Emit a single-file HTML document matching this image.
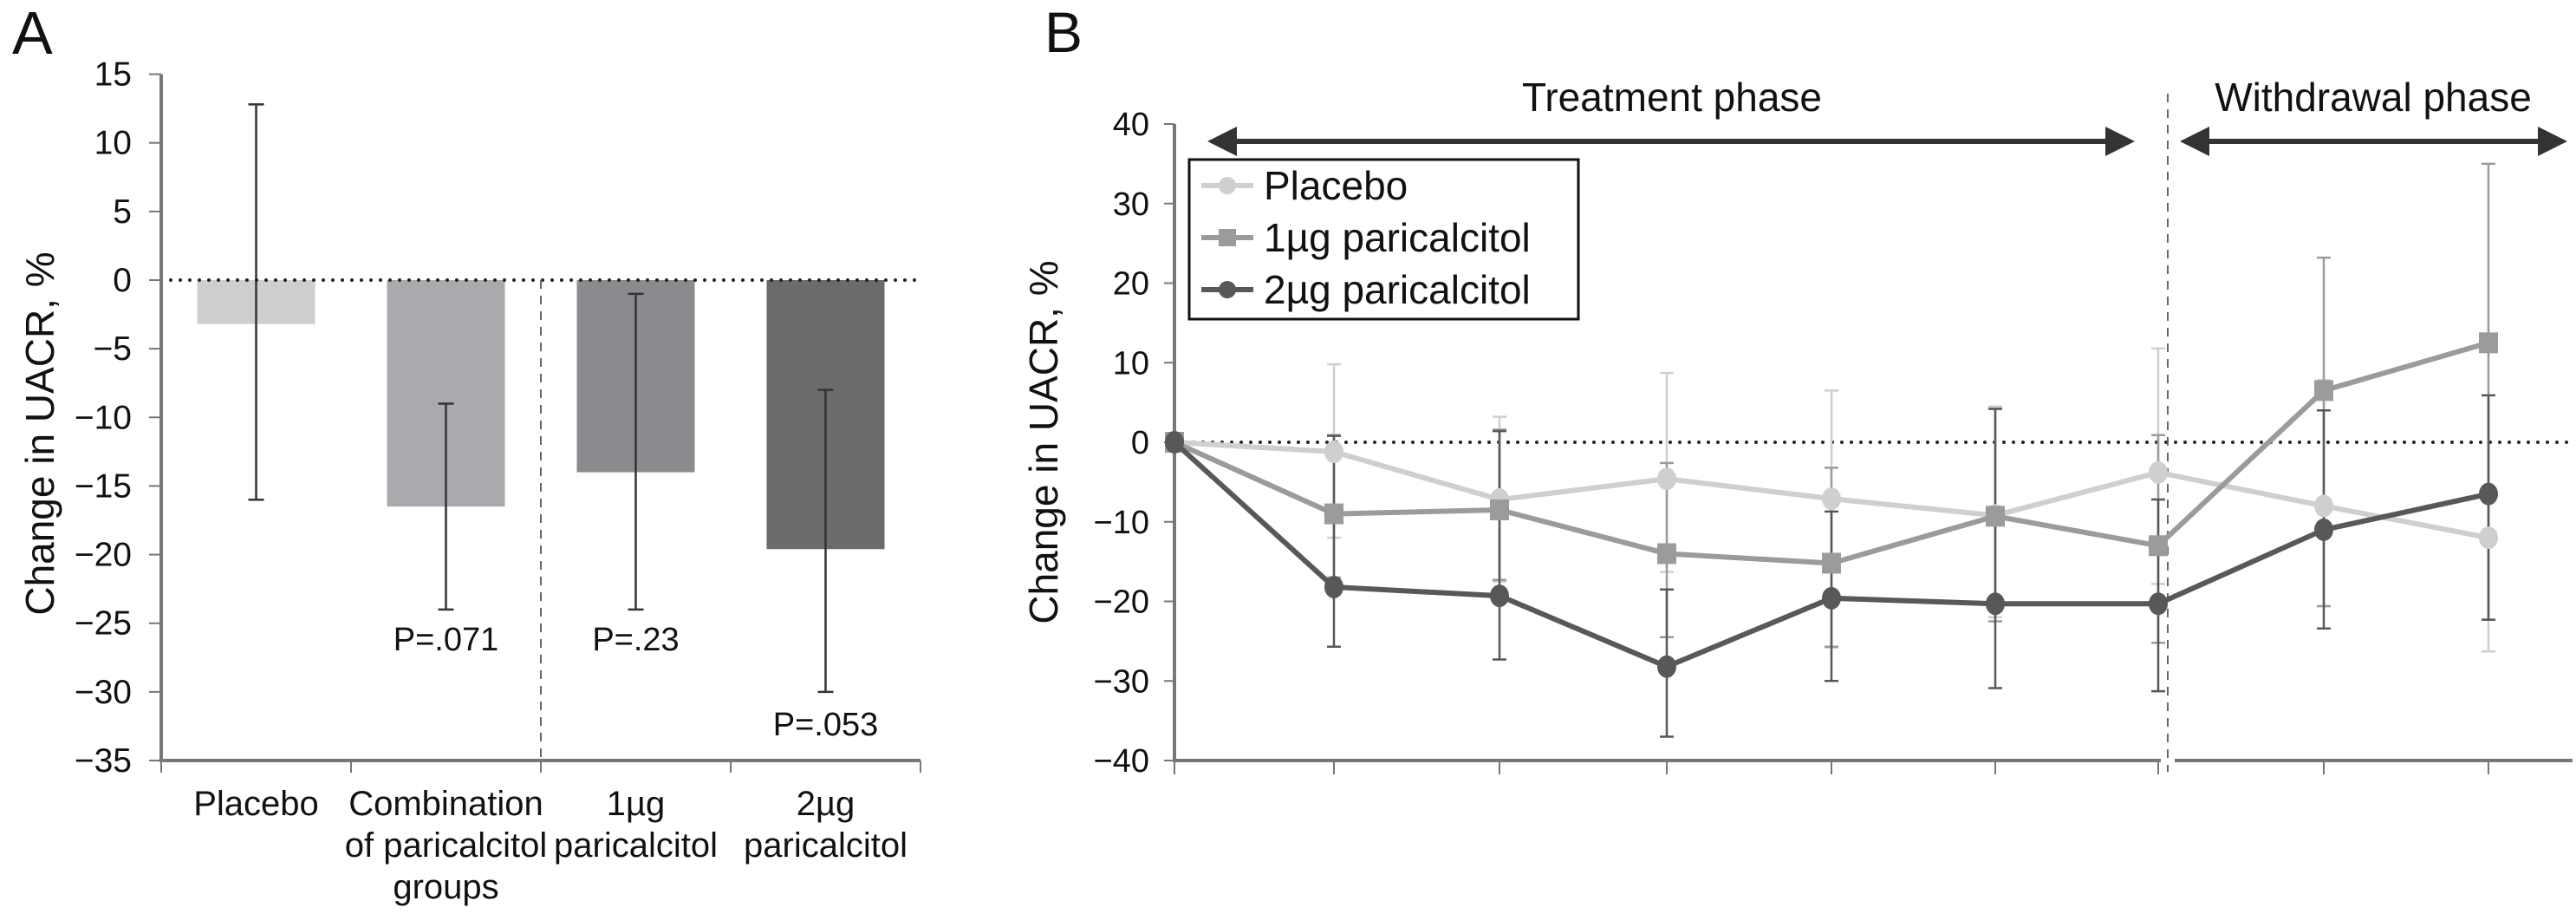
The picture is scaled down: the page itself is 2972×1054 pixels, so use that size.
<!DOCTYPE html>
<html><head><meta charset="utf-8"><style>
html,body{margin:0;padding:0;background:#fff}
svg{display:block;font-family:"Liberation Sans",sans-serif}
.cond{font-family:"Liberation Sans Narrow","Liberation Sans",sans-serif}
</style></head><body>
<svg id="chart" width="2972" height="1054" viewBox="0 0 2972 1054">
<g id="pa"></g>
<g id="pb"></g>
</svg>
<script>
// Panel A data
const catsA = ["Placebo","Combination of paricalcitol groups","1µg paricalcitol","2µg paricalcitol"];
const valsA = [-3.2, -16.5, -14, -19.6];
const errHiA = [12.8, -9, -1, -8];
const errLoA = [-16, -24, -24, -30];
const pLabelsA = ["", "P=.071", "P=.23", "P=.053"];
const ticksA = [15,10,5,0,-5,-10,-15,-20,-25,-30,-35];
const ticksALabels = ["15","10","5","0","\u22125","\u221210","\u221215","\u221220","\u221225","\u221230","\u221235"];
// Panel B data
const timesB = [0,1,2,3,4,5,6,7,8];
const placeboB = [0,-1.2,-7.2,-4.6,-7.1,-9.2,-3.8,-8,-12];
const placeboHi = [0,9.8,3.2,8.7,6.5,4.5,11.8,7.8,5.9];
const placeboLo = [0,-12,-17.5,-16.3,-25.8,-22,-17.8,-20.6,-26.3];
const p1B = [0,-9,-8.5,-14,-15.2,-9.3,-13,6.5,12.5];
const p1Hi = [0,0.9,1.6,-2.6,-3.2,4.2,0.9,23.2,35];
const p1Lo = [0,-17,-17.3,-24.5,-25.7,-22.5,-25.2,-20.6,-22.3];
const p2B = [0,-18.2,-19.3,-28.2,-19.6,-20.3,-20.3,-11,-6.5];
const p2Hi = [0,0.8,1.4,-18.5,-8.7,4.2,-7.2,4,5.9];
const p2Lo = [0,-25.7,-27.3,-37,-30,-30.9,-31.3,-23.4,-22.3];
const ticksB = [40,30,20,10,0,-10,-20,-30,-40];
const ticksBLabels = ["40","30","20","10","0","\u221210","\u221220","\u221230","\u221240"];

const NS="http://www.w3.org/2000/svg";
function mk(parent,tag,attrs,text){const e=document.createElementNS(NS,tag);for(const k in attrs)e.setAttribute(k,attrs[k]);if(text!==undefined)e.textContent=text;parent.appendChild(e);return e;}

// ---- Panel A ----
const pa=document.getElementById('pa');
const yA=v=>323+(0-v)*(877-323)/35;
const axA0=186, axA1=1062;
const bandA=(axA1-axA0)/4;
const xA=i=>axA0+bandA*(i+0.5);
let t=mk(pa,'text',{x:14,y:62,'font-size':70,fill:'#111'},'A');

t=mk(pa,'text',{transform:'translate(62,500) rotate(-90)','text-anchor':'middle','font-size':46,fill:'#111'},'Change in UACR, %');

ticksA.forEach((v,i)=>{
  const l=mk(pa,'line',{x1:172,x2:axA0,y1:yA(v),y2:yA(v),stroke:'#777','stroke-width':2});
  
  const tx=mk(pa,'text',{x:152,y:yA(v)+13,'text-anchor':'end','font-size':39,fill:'#111'},ticksALabels[i]);
  
});
const colA=['#cdcecf','#a9aaad','#8a8b8e','#6b6b6d'];
valsA.forEach((v,i)=>{
  const x=xA(i);
  const r=mk(pa,'rect',{x:x-68,y:yA(0),width:136,height:yA(v)-yA(0),fill:colA[i]});
  
  const e=mk(pa,'path',{d:`M${x},${yA(errHiA[i])}V${yA(errLoA[i])}M${x-9},${yA(errHiA[i])}h18M${x-9},${yA(errLoA[i])}h18`,stroke:'#333','stroke-width':2.5,fill:'none'});
  
  if(pLabelsA[i]){const py=i===3?yA(errLoA[i])+50:yA(errLoA[i])+45;
    const p=mk(pa,'text',{x:x,y:Math.max(py,750),'text-anchor':'middle','font-size':38,fill:'#111'},pLabelsA[i]);
    }
});
let z=mk(pa,'line',{x1:axA0,x2:axA1,y1:yA(0),y2:yA(0),stroke:'#222','stroke-width':4,'stroke-dasharray':'0 11','stroke-linecap':'round'});

z=mk(pa,'line',{x1:axA0+bandA*2,x2:axA0+bandA*2,y1:yA(0),y2:yA(-35),stroke:'#666','stroke-width':2,'stroke-dasharray':'10 8'});

z=mk(pa,'path',{d:`M${axA0},${yA(15)}V${yA(-35)}H${axA1}`,stroke:'#777','stroke-width':4,fill:'none'});

for(let i=0;i<=4;i++){const l=mk(pa,'line',{x1:axA0+bandA*i,x2:axA0+bandA*i,y1:yA(-35),y2:yA(-35)+14,stroke:'#777','stroke-width':2});
  }
const catLines=[["Placebo"],["Combination","of paricalcitol","groups"],["1µg","paricalcitol"],["2µg","paricalcitol"]];
catLines.forEach((ls,i)=>{
  const tx=mk(pa,'text',{'text-anchor':'middle','font-size':40,fill:'#111'});
  
  ls.forEach((s,j)=>mk(tx,'tspan',{x:xA(i),y:940+j*48},s));
});

// ---- Panel B ----
const pb=document.getElementById('pb');
const yB=v=>510-v*(877-510)/40;
const xB=i=>[1355,1539,1730,1923,2113,2302,2490,2681,2871][i];
t=mk(pb,'text',{x:1205,y:60,'font-size':66,fill:'#111'},'B');

t=mk(pb,'text',{transform:'translate(1220,510) rotate(-90)','text-anchor':'middle','font-size':46,fill:'#111'},'Change in UACR, %');

ticksB.forEach((v,i)=>{
  const l=mk(pb,'line',{x1:1343,x2:1355,y1:yB(v),y2:yB(v),stroke:'#777','stroke-width':2});
  
  const tx=mk(pb,'text',{x:1326,y:yB(v)+13,'text-anchor':'end','font-size':38,fill:'#111',class:'cond'},ticksBLabels[i]);
  
});
z=mk(pb,'line',{x1:1355,x2:2968,y1:yB(0),y2:yB(0),stroke:'#222','stroke-width':4,'stroke-dasharray':'0 11','stroke-linecap':'round'});

z=mk(pb,'line',{x1:2501,x2:2501,y1:108,y2:890,stroke:'#666','stroke-width':2,'stroke-dasharray':'10 8'});

z=mk(pb,'path',{d:`M1355,${yB(40)}V${yB(-40)}H2493M2509,${yB(-40)}H2968`,stroke:'#777','stroke-width':4,fill:'none'});

timesB.forEach(i=>{const l=mk(pb,'line',{x1:xB(i),x2:xB(i),y1:yB(-40),y2:yB(-40)+16,stroke:'#777','stroke-width':2});
  });
function arrow(x1,x2,y,name){
  const g=mk(pb,'g',{});
  mk(g,'line',{x1:x1+30,x2:x2-30,y1:y,y2:y,stroke:'#333','stroke-width':6});
  mk(g,'path',{d:`M${x1},${y}l34,-17v34zM${x2},${y}l-34,-17v34z`,fill:'#333'});
}
arrow(1393,2463,163,'treatment-arrow');arrow(2515,2962,163,'withdrawal-arrow');
t=mk(pb,'text',{x:1929,y:128,'text-anchor':'middle','font-size':46,fill:'#111',class:'cond'},'Treatment phase');

t=mk(pb,'text',{x:2738,y:128,'text-anchor':'middle','font-size':46,fill:'#111',class:'cond'},'Withdrawal phase');

const series=[
  {name:'placebo',vals:placeboB,hi:placeboHi,lo:placeboLo,col:'#cfcfd0',m:'circle'},
  {name:'1ug',vals:p1B,hi:p1Hi,lo:p1Lo,col:'#9a9b9d',m:'square'},
  {name:'2ug',vals:p2B,hi:p2Hi,lo:p2Lo,col:'#58585a',m:'circle'}];
series.forEach(s=>{
  const g=mk(pb,'g',{});
  timesB.forEach(i=>{ if(i===0)return;
    const x=xB(i);
    const e=mk(g,'path',{d:`M${x},${yB(s.hi[i])}V${yB(s.lo[i])}M${x-8},${yB(s.hi[i])}h16M${x-8},${yB(s.lo[i])}h16`,stroke:s.col,'stroke-width':2.5,fill:'none'});
    
  });
});
series.forEach(s=>{
  const g=mk(pb,'g',{});
  const ln=mk(g,'polyline',{points:timesB.map(i=>xB(i)+','+yB(s.vals[i])).join(' '),fill:'none',stroke:s.col,'stroke-width':6});
  
  timesB.forEach(i=>{
    const x=xB(i),y=yB(s.vals[i]);
    const p=s.m==='circle'?mk(g,'ellipse',{cx:x,cy:y,rx:11,ry:13,fill:s.col}):mk(g,'rect',{x:x-11,y:y-12,width:22,height:24,fill:s.col});
    
  });
});
const lg=mk(pb,'g',{});
mk(lg,'rect',{x:1372,y:184,width:449,height:184,fill:'#fff',stroke:'#111','stroke-width':3});
const legNames=['Placebo','1µg paricalcitol','2µg paricalcitol'];
series.forEach((s,i)=>{
  const y=214+i*60;
  const e=mk(lg,'g',{});
  mk(e,'line',{x1:1386,x2:1446,y1:y,y2:y,stroke:s.col,'stroke-width':6});
  if(s.m==='circle')mk(e,'circle',{cx:1416,cy:y,r:10,fill:s.col});else mk(e,'rect',{x:1406,y:y-10,width:20,height:20,fill:s.col});
  mk(e,'text',{x:1458,y:y+16,'font-size':46,fill:'#111',class:'cond'},legNames[i]);
});
</script>
</body></html>
